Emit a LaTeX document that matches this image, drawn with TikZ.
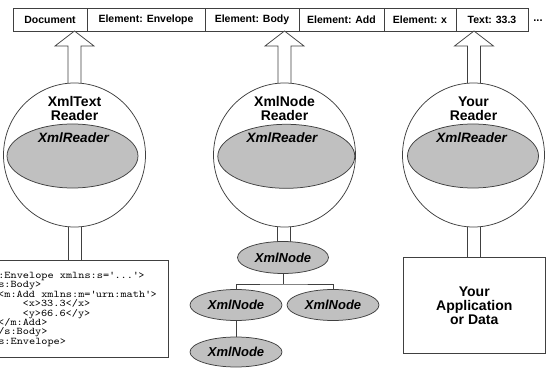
\documentclass[tikz,border=0pt]{standalone}
\usepackage{fontspec}
\setmainfont{Liberation Sans}
\newfontfamily\codefont[FakeStretch=1.15]{Latin Modern Mono}
\usetikzlibrary{shapes.geometric}
\definecolor{linegray}{HTML}{404040}
\definecolor{fillgray}{HTML}{C0C0C0}
\begin{document}
\begin{tikzpicture}[x=1pt,y=-1pt,
  ln/.style={draw=linegray, line width=0.75pt},
  cell/.style={ln, rectangle, minimum height=23pt, inner sep=0pt,
    font=\fontsize{10.5}{12}\selectfont\bfseries},
  bigcirc/.style={ln, ellipse, fill=white, minimum width=142pt, minimum height=144pt, inner sep=0pt},
  grayell/.style={ln, ellipse, fill=fillgray, inner sep=0pt, minimum height=64pt},
  nodeell/.style={ln, ellipse, fill=fillgray, inner sep=0pt,
    font=\fontsize{13}{14}\selectfont\bfseries\itshape},
  title/.style={align=center, inner sep=0pt, font=\fontsize{14}{14}\selectfont\bfseries},
  italab/.style={inner sep=0pt, font=\fontsize{13.5}{14}\selectfont\bfseries\itshape},
  codeln/.style={anchor=base west, inner sep=0pt, font=\fontsize{10.2}{10}\selectfont\codefont},
  hollow/.style={ln, fill=white, line join=miter}
]
\useasboundingbox (0,0) rectangle (547,369);
\clip (0,0) rectangle (547,369);

% top strip
\node[cell, minimum width=74pt]  (doc)  at (50,19.5)    {Document};
\node[cell, minimum width=118pt] (env)  at (146,19.5)   {Element: Envelope};
\node[cell, minimum width=94pt]  (body) at (252,19.5)   {Element: Body};
\node[cell, minimum width=85pt]  (add)  at (341.5,19.5) {Element: Add};
\node[cell, minimum width=72pt]  (ex)   at (420,19.5)   {Element: x};
\node[cell, minimum width=72pt]  (txt)  at (492,19.5)   {Text: 33.3};
\node[inner sep=0pt, font=\fontsize{11}{12}\selectfont\bfseries] (dots) at (538,21) {...};

% upward hollow arrows
\draw[hollow] (68,95) -- (68,46) -- (55,46) -- (74.5,31) -- (94,46) -- (81,46) -- (81,95);
\draw[hollow] (278,95) -- (278,46) -- (265,46) -- (284.5,31) -- (304,46) -- (291,46) -- (291,95);
\draw[hollow] (467.5,95) -- (467.5,46) -- (454.5,46) -- (474,31) -- (493.5,46) -- (480.5,46) -- (480.5,95);

% lower shafts
\draw[ln] (68,215) -- (68,265) (81,215) -- (81,265);
\draw[ln] (277.5,215) -- (277.5,250) (290.5,215) -- (290.5,250);
\draw[ln] (467.7,215) -- (467.7,262) (480.7,215) -- (480.7,262);

% readers
\node[bigcirc] (r1) at (74.5,155) {};
\node[bigcirc] (r2) at (284.5,155) {};
\node[bigcirc] (r3) at (473.5,155) {};
\node[grayell, minimum width=131pt] (g1) at (72.5,156) {};
\node[grayell, minimum width=137pt] (g2) at (286.3,156.3) {};
\node[grayell, minimum width=131pt] (g3) at (473,156) {};
\node[title] (t1) at (74.5,108.5) {XmlText\\Reader};
\node[title] (t2) at (284.5,108.5) {XmlNode\\Reader};
\node[title] (t3) at (473.5,108.5) {Your\\Reader};
\node[italab] (x1) at (73.5,138) {XmlReader};
\node[italab] (x2) at (282,138) {XmlReader};
\node[italab] (x3) at (471.7,138) {XmlReader};

% code box
\draw[ln, fill=white] (-20,260) rectangle (168.3,357.3);
\node[codeln] (c1) at (-14.2,278.5) {<s:Envelope xmlns:s=\textquotesingle...\textquotesingle>};
\node[codeln] (c2) at (-8.1,287.9) {<s:Body>};
\node[codeln] (c3) at (-2.0,297.3) {<m:Add xmlns:m=\textquotesingle urn:math\textquotesingle>};
\node[codeln] (c4) at (22.4,306.7) {<x>33.3</x>};
\node[codeln] (c5) at (22.4,316.1) {<y>66.6</y>};
\node[codeln] (c6) at (-2.0,325.5) {</m:Add>};
\node[codeln] (c7) at (-8.1,334.9) {</s:Body>};
\node[codeln] (c8) at (-14.2,344.3) {</s:Envelope>};

% node tree
\node[nodeell, minimum width=91pt, minimum height=32pt] (root) at (283,257.5) {XmlNode};
\node[nodeell, minimum width=92pt, minimum height=31pt] (ch1) at (236,305) {XmlNode};
\node[nodeell, minimum width=92pt, minimum height=31pt] (ch2) at (333,305) {XmlNode};
\node[nodeell, minimum width=92pt, minimum height=30pt] (gc) at (236,352) {XmlNode};
\coordinate (bus) at (283,284);
\draw[ln] (root.south) -- (bus);
\draw[ln] (ch1.north) |- (bus) -| (ch2.north);
\draw[ln] (ch1.south) -- (gc.north);

% application box
\node[ln, fill=white, minimum width=141.7pt, minimum height=96pt, inner sep=0pt,
  align=center, font=\fontsize{14}{14}\selectfont\bfseries] (app) at (474.3,305.3)
  {Your\\Application\\or Data};
\end{tikzpicture}
\end{document}
